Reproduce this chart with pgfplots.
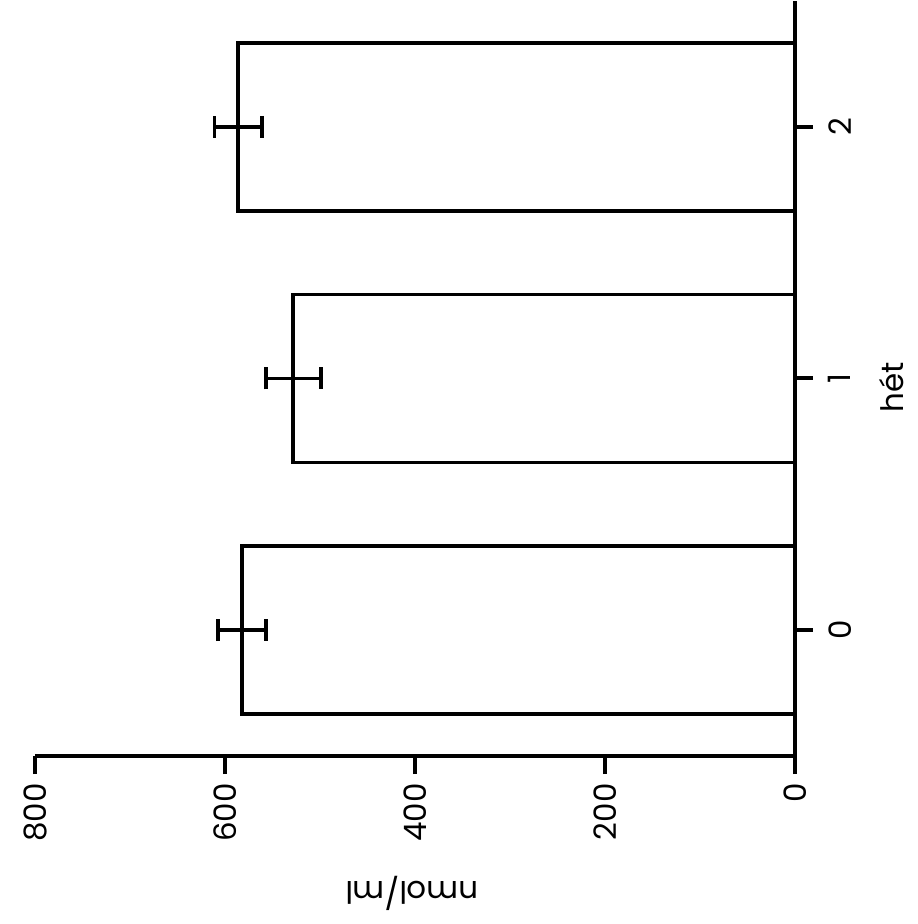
\documentclass[border=0pt]{standalone}
\usepackage{pgfplots}
\pgfplotsset{compat=1.18}
\usepackage{fontspec}
\setmainfont{Poppins}
\newcommand{\labelfont}{\fontsize{31}{36}\selectfont}

\begin{document}
\begin{tikzpicture}
\path[use as bounding box] (-35bp,-168bp) rectangle (883bp,756bp);
\begin{axis}[
  at={(0,0)}, anchor=south west,
  scale only axis, width=760bp, height=755bp,
  xbar, bar width=0.667,
  xmin=0, xmax=800, x dir=reverse,
  ymin=-0.5, ymax=2.5,
  enlargelimits=false,
  axis x line*=bottom, axis y line*=right,
  axis line style={line width=4bp, black},
  xtick={0,200,...,800}, ytick={0,1,2},
  tick align=outside, major tick length=18bp,
  tick style={line width=4bp, black},
  /pgf/number format/assume math mode=true,
  xticklabel style={rotate=90, anchor=east, font=\labelfont},
  yticklabel style={rotate=90, anchor=north, font=\labelfont},
  xticklabel shift=6bp, yticklabel shift=12bp,
  xlabel={nmol/ml}, ylabel={hét},
  every axis x label/.style={at={(axis description cs:0.496,-0.182)}, anchor=center, rotate=180, font=\labelfont},
  every axis y label/.style={at={(axis description cs:1.127,0.488)}, anchor=center, rotate=90, font=\labelfont},
]
\addplot[draw=black, fill=white, line width=3.8bp,
  error bars/.cd, x dir=both, x explicit, error mark=|,
  error bar style={line width=3.8bp, black},
  error mark options={line width=3.8bp, mark size=11bp, black}]
  coordinates {(582,0) +- (25,0) (528,1) +- (29,0) (586,2) +- (25,0)};
\end{axis}
\end{tikzpicture}
\end{document}
